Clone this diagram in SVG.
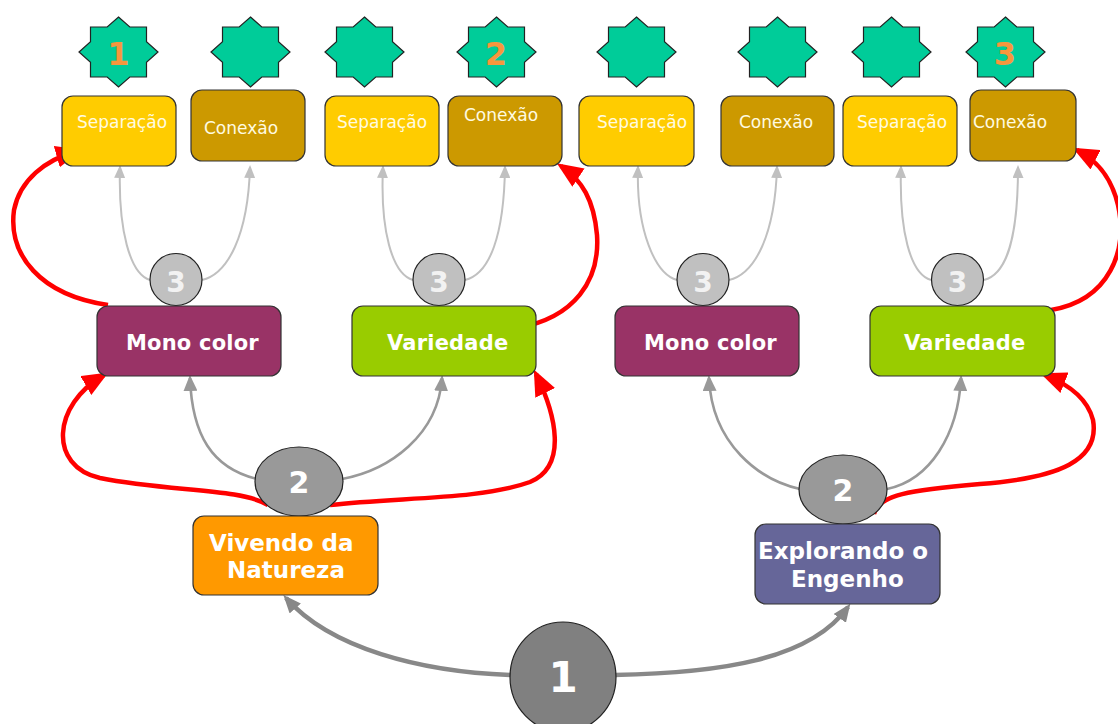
<svg xmlns="http://www.w3.org/2000/svg" width="1118" height="724" viewBox="0 0 1118 724">
<style>
.box{stroke:#333;stroke-width:1.2}
.sep{fill:#FFCC00}
.con{fill:#CC9900}
.mono{fill:#993366}
.var{fill:#99CC00}
.t1{font-family:"DejaVu Sans",Verdana,sans-serif;font-size:17px;fill:#FFFBE0}
.t2{font-family:"DejaVu Sans",Verdana,sans-serif;font-size:21px;font-weight:bold;fill:#FFFFFF;letter-spacing:0.2px}
.t3{font-family:"DejaVu Sans",Verdana,sans-serif;font-size:23px;font-weight:bold;fill:#FFFFFF}
.num{font-family:"DejaVu Sans",Verdana,sans-serif;font-weight:bold;text-anchor:middle}
.star{fill:#00CC99;stroke:#222;stroke-width:1.2}
.red{fill:none;stroke:#FF0000;stroke-width:4.5;marker-end:url(#ar)}
.g1{fill:none;stroke:#888888;stroke-width:4.5;marker-end:url(#ag1)}
.g2{fill:none;stroke:#999999;stroke-width:2.6;marker-end:url(#ag2)}
.g3{fill:none;stroke:#C0C0C0;stroke-width:2;marker-end:url(#ag3)}
.c3{fill:#C0C0C0;stroke:#222;stroke-width:1.2}
</style>
<defs>
<polygon id="st" points="0,-35 11.3,-25 28,-25 28,-10.2 39.5,0 28,10.2 28,25 11.3,25 0,35 -11.3,25 -28,25 -28,10.2 -39.5,0 -28,-10.2 -28,-25 -11.3,-25"/>
<marker id="ar" viewBox="0 0 26 22" refX="21" refY="11" markerUnits="userSpaceOnUse" markerWidth="26" markerHeight="22" orient="auto"><path d="M0,0 L26,11 L0,22 z" fill="#FF0000"/></marker>
<marker id="ag1" viewBox="0 0 18 15" refX="14" refY="7.5" markerUnits="userSpaceOnUse" markerWidth="18" markerHeight="15" orient="auto"><path d="M0,0 L18,7.5 L0,15 z" fill="#888888"/></marker>
<marker id="ag2" viewBox="0 0 16 14" refX="13" refY="7" markerUnits="userSpaceOnUse" markerWidth="16" markerHeight="14" orient="auto"><path d="M0,0 L16,7 L0,14 z" fill="#999999"/></marker>
<marker id="ag3" viewBox="0 0 13 11" refX="11" refY="5.5" markerUnits="userSpaceOnUse" markerWidth="13" markerHeight="11" orient="auto"><path d="M0,0 L13,5.5 L0,11 z" fill="#C0C0C0"/></marker>
</defs>

<g id="connectors">
<path class="g1" d="M512,675 C 420,672 330,648 286,598"/>
<path class="g1" d="M614,675 C 720,673 810,660 848,607"/>
<path class="g2" d="M257,479 C 212,468 192,435 190,378"/>
<path class="g2" d="M342,479 C 390,470 438,435 442,378"/>
<path class="g2" d="M800,489 C 760,480 712,445 709,378"/>
<path class="g2" d="M887,489 C 930,480 958,435 961,378"/>
<path class="g3" d="M150,280 C 130,274 118,230 120,167"/>
<path class="g3" d="M202,280 C 228,274 248,235 250,167"/>
<path class="g3" d="M413,280 C 392,274 380,230 383,167"/>
<path class="g3" d="M465,280 C 490,274 504,235 505,167"/>
<path class="g3" d="M677,280 C 655,274 636,230 638,167"/>
<path class="g3" d="M729,280 C 755,274 775,235 777,167"/>
<path class="g3" d="M931,280 C 910,274 899,230 901,167"/>
<path class="g3" d="M984,280 C 1008,274 1018,235 1018,167"/>
<path class="red" d="M108,305 C 40,295 8,255 14,210 C 20,180 45,160 77,151"/>
<path class="red" d="M268,505 C 240,488 170,492 100,478 C 48,466 52,405 104,375"/>
<path class="red" d="M330,505 C 400,497 480,500 530,482 C 568,466 556,415 536,374"/>
<path class="red" d="M517,328 C 575,318 600,280 597,235 C 594,200 582,180 561,166"/>
<path class="red" d="M874,514 C 878,495 910,490 980,484 C 1060,478 1100,460 1093,420 C 1088,400 1070,385 1045,375"/>
<path class="red" d="M1051,310 C 1110,300 1128,250 1118,205 C 1112,180 1100,162 1077,150"/>
</g>

<g id="star1"><use href="#st" class="star" x="118.5" y="52"/><text class="num" x="118.5" y="65" font-size="32" fill="#F7963D">1</text></g>
<g id="star2"><use href="#st" class="star" x="250.5" y="52"/></g>
<g id="star3"><use href="#st" class="star" x="364.5" y="52"/></g>
<g id="star4"><use href="#st" class="star" x="496.5" y="52"/><text class="num" x="496" y="65" font-size="32" fill="#F7963D">2</text></g>
<g id="star5"><use href="#st" class="star" x="636.5" y="52"/></g>
<g id="star6"><use href="#st" class="star" x="777.5" y="52"/></g>
<g id="star7"><use href="#st" class="star" x="891.5" y="52"/></g>
<g id="star8"><use href="#st" class="star" x="1005.5" y="52"/><text class="num" x="1005" y="65" font-size="32" fill="#F7963D">3</text></g>

<g id="sep1"><rect class="box sep" x="62" y="96" width="114" height="70" rx="11"/><text class="t1" x="77" y="128">Separação</text></g>
<g id="con1"><rect class="box con" x="191" y="90" width="114" height="71" rx="11"/><text class="t1" x="204" y="134">Conexão</text></g>
<g id="sep2"><rect class="box sep" x="325" y="96" width="114" height="70" rx="11"/><text class="t1" x="337" y="128">Separação</text></g>
<g id="con2"><rect class="box con" x="448" y="96" width="114" height="70" rx="11"/><text class="t1" x="464" y="121">Conexão</text></g>
<g id="sep3"><rect class="box sep" x="579" y="96" width="115" height="70" rx="11"/><text class="t1" x="597" y="128">Separação</text></g>
<g id="con3"><rect class="box con" x="721" y="96" width="113" height="70" rx="11"/><text class="t1" x="739" y="128">Conexão</text></g>
<g id="sep4"><rect class="box sep" x="843" y="96" width="114" height="70" rx="11"/><text class="t1" x="857" y="128">Separação</text></g>
<g id="con4"><rect class="box con" x="970" y="90" width="106" height="71" rx="11"/><text class="t1" x="973" y="128">Conexão</text></g>

<g id="c3a"><circle class="c3" cx="176" cy="279.5" r="26"/><text class="num" x="176" y="291.5" font-size="28" fill="#F2F2F2">3</text></g>
<g id="c3b"><circle class="c3" cx="439" cy="279.5" r="26"/><text class="num" x="439" y="291.5" font-size="28" fill="#F2F2F2">3</text></g>
<g id="c3c"><circle class="c3" cx="703" cy="279.5" r="26"/><text class="num" x="703" y="291.5" font-size="28" fill="#F2F2F2">3</text></g>
<g id="c3d"><circle class="c3" cx="957.5" cy="279.5" r="26"/><text class="num" x="957.5" y="291.5" font-size="28" fill="#F2F2F2">3</text></g>

<g id="mono1"><rect class="box mono" x="97" y="306" width="184" height="70" rx="11"/><text class="t2" x="126" y="350">Mono color</text></g>
<g id="var1"><rect class="box var" x="352" y="306" width="184" height="70" rx="11"/><text class="t2" x="387" y="350">Variedade</text></g>
<g id="mono2"><rect class="box mono" x="615" y="306" width="184" height="70" rx="11"/><text class="t2" x="644" y="350">Mono color</text></g>
<g id="var2"><rect class="box var" x="870" y="306" width="185" height="70" rx="11"/><text class="t2" x="904" y="350">Variedade</text></g>

<g id="c2a"><ellipse cx="299" cy="481.5" rx="44" ry="34.5" fill="#999999" stroke="#222" stroke-width="1.2"/><text class="num" x="299" y="493" font-size="30" fill="#FFFFFF">2</text></g>
<g id="c2b"><ellipse cx="843" cy="489.5" rx="44" ry="34.5" fill="#999999" stroke="#222" stroke-width="1.2"/><text class="num" x="843" y="501" font-size="30" fill="#FFFFFF">2</text></g>

<g id="vivendo"><rect class="box" fill="#FF9900" x="193" y="516" width="185" height="79" rx="11"/><text class="t3" x="209" y="551">Vivendo da</text><text class="t3" x="227" y="578">Natureza</text></g>
<g id="explorando"><rect class="box" fill="#666699" x="755" y="524" width="185" height="80" rx="11"/><text class="t3" x="758" y="559">Explorando o</text><text class="t3" x="791" y="587">Engenho</text></g>

<g id="c1"><ellipse cx="563" cy="677" rx="53" ry="55" fill="#808080" stroke="#222" stroke-width="1.2"/><text class="num" x="563" y="692" font-size="42" fill="#FFFFFF">1</text></g>
</svg>
